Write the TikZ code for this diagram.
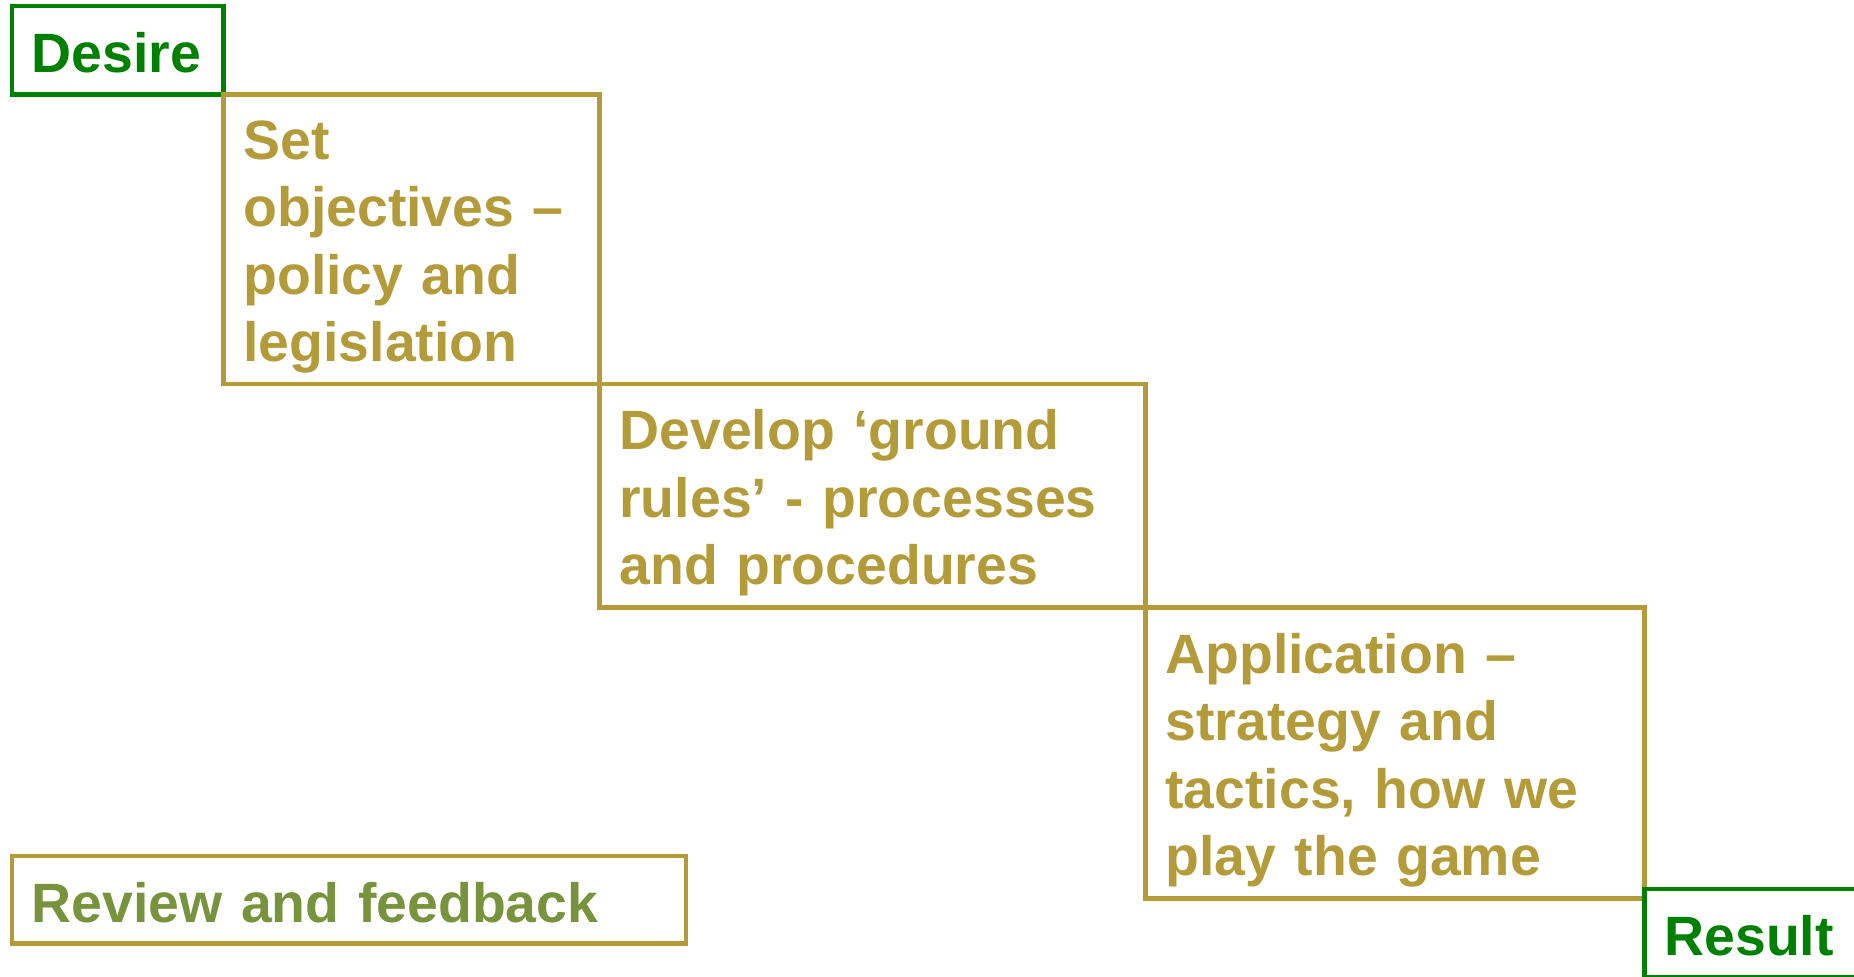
\documentclass[tikz,border=0pt]{standalone}
\usepackage{fontspec}
\setmainfont{Liberation Sans}
\usepackage{xcolor}
\usetikzlibrary{positioning}

\definecolor{stepgold}{RGB}{180,155,58}
\definecolor{endgreen}{RGB}{0,128,0}
\definecolor{reviewgreen}{RGB}{119,147,60}

% pushes the first line a little lower in its box
\newcommand{\stepstrut}[1]{\rule{0pt}{#1}}

\tikzset{
  stagebox/.style={draw=stepgold, text=stepgold, line width=2.2pt, outer sep=0pt,
    inner xsep=10pt, inner ysep=0pt, align=left, anchor=north west,
    font=\fontsize{27.7pt}{33.7pt}\selectfont\bfseries},
  endbox/.style={stagebox, draw=endgreen, text=endgreen,
    minimum width=105.8pt, minimum height=44.3pt, text width=85.8pt}
}

\begin{document}
\begin{tikzpicture}
\useasboundingbox (0,0) rectangle (927pt,-488.5pt);

% start and the three steps
\node[endbox] (desire) at (5.9pt,-2.95pt) {\stepstrut{22.5pt}Desire};
\node[stagebox, text width=168pt, minimum height=144.8pt] (objectives) at (desire.south east)
  {\stepstrut{27.2pt}Set\\objectives --\\policy and\\legislation};
\node[stagebox, text width=253pt, minimum height=111.8pt] (groundrules) at (objectives.south east)
  {\stepstrut{27.2pt}Develop ‘ground\\rules’ - processes\\and procedures};
\node[stagebox, text width=229.5pt, minimum height=145.4pt] (application) at (groundrules.south east)
  {\stepstrut{27.2pt}Application --\\strategy and\\tactics, how we\\play the game};

% end
\node[endbox] (result) at ([yshift=4.7pt]application.south east) {\stepstrut{22.5pt}Result};

% feedback
\node[stagebox, text=reviewgreen, text width=317pt, minimum height=43.8pt] (review) at (5.9pt,-428pt)
  {\stepstrut{22.5pt}Review and feedback};
\end{tikzpicture}
\end{document}
